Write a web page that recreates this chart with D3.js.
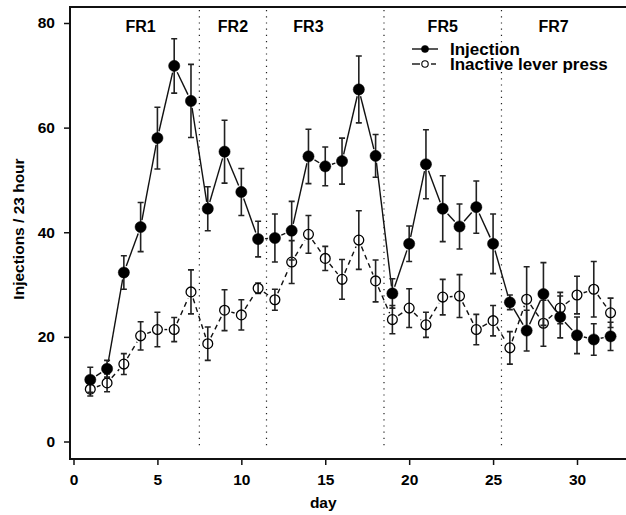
<!DOCTYPE html>
<html>
<head>
<meta charset="utf-8">
<script src="https://cdn.jsdelivr.net/npm/d3@7"></script>
<style>
  body { margin: 0; background: #fff; }
  text { font-family: "Liberation Sans", Arial, Helvetica, sans-serif; font-weight: bold; }
</style>
</head>
<body>
<div id="chart"></div>
<script>
// data
var days = d3.range(1, 33);
var injection = [11.8, 13.9, 32.3, 41.0, 58.0, 71.8, 65.1, 44.5, 55.4, 47.7, 38.7, 38.9,
                 40.3, 54.5, 52.6, 53.6, 67.3, 54.6, 28.3, 37.8, 53.0, 44.5, 41.1, 44.8,
                 37.8, 26.6, 21.2, 28.2, 23.8, 20.3, 19.5, 20.1];
var injectionErr = [2.4, 1.6, 3.2, 4.7, 5.9, 5.2, 7.0, 4.2, 6.0, 4.5, 3.4, 4.6,
                    5.6, 5.2, 3.7, 4.4, 6.4, 4.1, 2.8, 3.4, 6.6, 6.3, 4.3, 5.0,
                    5.7, 1.4, 3.9, 6.0, 4.0, 3.5, 3.0, 2.7];
var inactive = [10.0, 11.2, 14.8, 20.2, 21.4, 21.4, 28.6, 18.7, 25.1, 24.2, 29.3, 27.1,
                34.3, 39.6, 35.0, 31.0, 38.5, 30.7, 23.3, 25.5, 22.3, 27.6, 27.8, 21.4,
                23.1, 17.9, 27.2, 22.6, 25.5, 28.0, 29.1, 24.6];
var inactiveErr = [1.3, 1.7, 2.0, 2.7, 3.3, 2.3, 4.2, 3.2, 3.9, 2.9, 1.0, 2.0,
                   4.1, 3.6, 2.3, 3.8, 5.6, 4.0, 2.7, 3.7, 2.4, 3.4, 4.1, 2.9,
                   2.9, 3.1, 6.2, 4.4, 3.0, 3.6, 5.3, 2.8];
var phaseBreaks = [7.5, 11.5, 18.5, 25.5];
var phaseLabels = ["FR1", "FR2", "FR3", "FR5", "FR7"];
var phaseLabelDay = [4, 9.5, 14, 22, 28.6];
var xTicks = [0, 5, 10, 15, 20, 25, 30];
var yTicks = [0, 20, 40, 60, 80];

var width = 626, height = 515;
var box = { left: 70, top: 7, bottom: 459 };

var svg = d3.select("#chart").append("svg")
  .attr("width", width)
  .attr("height", height);

var x = d3.scaleLinear().domain([0, 30]).range([73.5, 577]);
var y = d3.scaleLinear().domain([0, 80]).range([441.5, 23]);

// phase separators
svg.selectAll(".sep")
  .data(phaseBreaks)
  .enter()
  .append("line")
  .attr("x1", d => x(d)).attr("x2", d => x(d))
  .attr("y1", 10).attr("y2", 449)
  .attr("stroke", "#222")
  .attr("stroke-width", 1.2)
  .attr("stroke-dasharray", "1.2,5");

// phase labels
svg.selectAll(".phase")
  .data(phaseLabels)
  .enter()
  .append("text")
  .attr("x", (d, i) => x(phaseLabelDay[i]))
  .attr("y", 32)
  .attr("text-anchor", "middle")
  .attr("font-size", 16)
  .text(d => d);

// box
svg.append("path")
  .attr("d", `M${width + 5},${box.top} H${box.left} V${box.bottom} H${width + 5}`)
  .attr("fill", "none")
  .attr("stroke", "#111")
  .attr("stroke-width", 2);

// axes
var xAxis = d3.axisBottom(x).tickValues(xTicks).tickSize(6).tickSizeOuter(0);
var gx = svg.append("g")
  .attr("transform", `translate(0, ${box.bottom})`)
  .call(xAxis);
gx.select(".domain").remove();
gx.selectAll("line").attr("stroke", "#111").attr("stroke-width", 1.5);
gx.selectAll("text").attr("font-size", 15.5).attr("dy", "1.1em").attr("fill", "#000")
  .style("font-family", "Liberation Sans, Arial, sans-serif").style("font-weight", "bold");

var yAxis = d3.axisLeft(y).tickValues(yTicks).tickSize(6).tickSizeOuter(0);
var gy = svg.append("g")
  .attr("transform", `translate(${box.left}, 0)`)
  .call(yAxis);
gy.select(".domain").remove();
gy.selectAll("line").attr("stroke", "#111").attr("stroke-width", 1.5);
gy.selectAll("text").attr("font-size", 15.5).attr("x", -15).attr("fill", "#000")
  .style("font-family", "Liberation Sans, Arial, sans-serif").style("font-weight", "bold");

// axis titles
svg.append("text")
  .attr("x", x(15) - 2)
  .attr("y", 508)
  .attr("text-anchor", "middle")
  .attr("font-size", 15.5)
  .text("day");

svg.append("text")
  .attr("transform", "translate(24," + ((box.top + box.bottom) / 2 - 4) + ") rotate(-90)")
  .attr("text-anchor", "middle")
  .attr("font-size", 15.5)
  .text("Injections / 23 hour");

// connecting segments with gaps round the points (like R type="b")
function segments(vals, gap) {
  var segs = [];
  for (var i = 0; i < vals.length - 1; i++) {
    var x1 = x(days[i]), y1 = y(vals[i]), x2 = x(days[i + 1]), y2 = y(vals[i + 1]);
    var len = Math.hypot(x2 - x1, y2 - y1);
    if (len <= 2 * gap) continue;
    var ux = (x2 - x1) / len, uy = (y2 - y1) / len;
    segs.push([x1 + ux * gap, y1 + uy * gap, x2 - ux * gap, y2 - uy * gap]);
  }
  return segs;
}

function drawSeries(vals, errs, filled, cls) {
  var g = svg.append("g").attr("class", cls);

  g.selectAll(".seg")
    .data(segments(vals, 7))
    .enter()
    .append("line")
    .attr("x1", d => d[0]).attr("y1", d => d[1])
    .attr("x2", d => d[2]).attr("y2", d => d[3])
    .attr("stroke", "#111")
    .attr("stroke-width", 1.4)
    .attr("stroke-dasharray", filled ? null : "5,4");

  // error bars
  g.selectAll(".err")
    .data(vals)
    .enter()
    .append("path")
    .attr("d", (d, i) => {
      var cx = x(days[i]), t = y(d + errs[i]), b = y(d - errs[i]);
      return `M${cx},${t} V${b} M${cx - 3},${t} H${cx + 3} M${cx - 3},${b} H${cx + 3}`;
    })
    .attr("fill", "none")
    .attr("stroke", "#222")
    .attr("stroke-width", 1.6);

  g.selectAll(".pt")
    .data(vals)
    .enter()
    .append("circle")
    .attr("cx", (d, i) => x(days[i]))
    .attr("cy", d => y(d))
    .attr("r", filled ? 5.6 : 4.9)
    .attr("fill", filled ? "#000" : "#fff")
    .attr("fill-opacity", filled ? 1 : 0)
    .attr("stroke", "#000")
    .attr("stroke-width", filled ? 0.5 : 1.3);
}

drawSeries(inactive, inactiveErr, false, "inactive");
drawSeries(injection, injectionErr, true, "injection");

// legend
var legend = svg.append("g");
var legendItems = [
  { label: "Injection", filled: true },
  { label: "Inactive lever press", filled: false }
];
legendItems.forEach(function (item, i) {
  var ly = 49 + i * 15;
  if (item.filled) {
    legend.append("line").attr("x1", 412).attr("x2", 438).attr("y1", ly).attr("y2", ly)
      .attr("stroke", "#111").attr("stroke-width", 1.4);
  } else {
    legend.append("line").attr("x1", 412).attr("x2", 420).attr("y1", ly).attr("y2", ly)
      .attr("stroke", "#111").attr("stroke-width", 1.4);
    legend.append("line").attr("x1", 431).attr("x2", 436).attr("y1", ly).attr("y2", ly)
      .attr("stroke", "#111").attr("stroke-width", 1.4);
  }
  legend.append("circle")
    .attr("cx", 425).attr("cy", ly)
    .attr("r", item.filled ? 3.6 : 3.2)
    .attr("fill", item.filled ? "#000" : "#fff")
    .attr("stroke", "#000")
    .attr("stroke-width", item.filled ? 0.5 : 1.1);
  legend.append("text")
    .attr("x", 450).attr("y", ly + 5.5)
    .attr("font-size", 17)
    .text(item.label);
});
</script>
</body>
</html>
